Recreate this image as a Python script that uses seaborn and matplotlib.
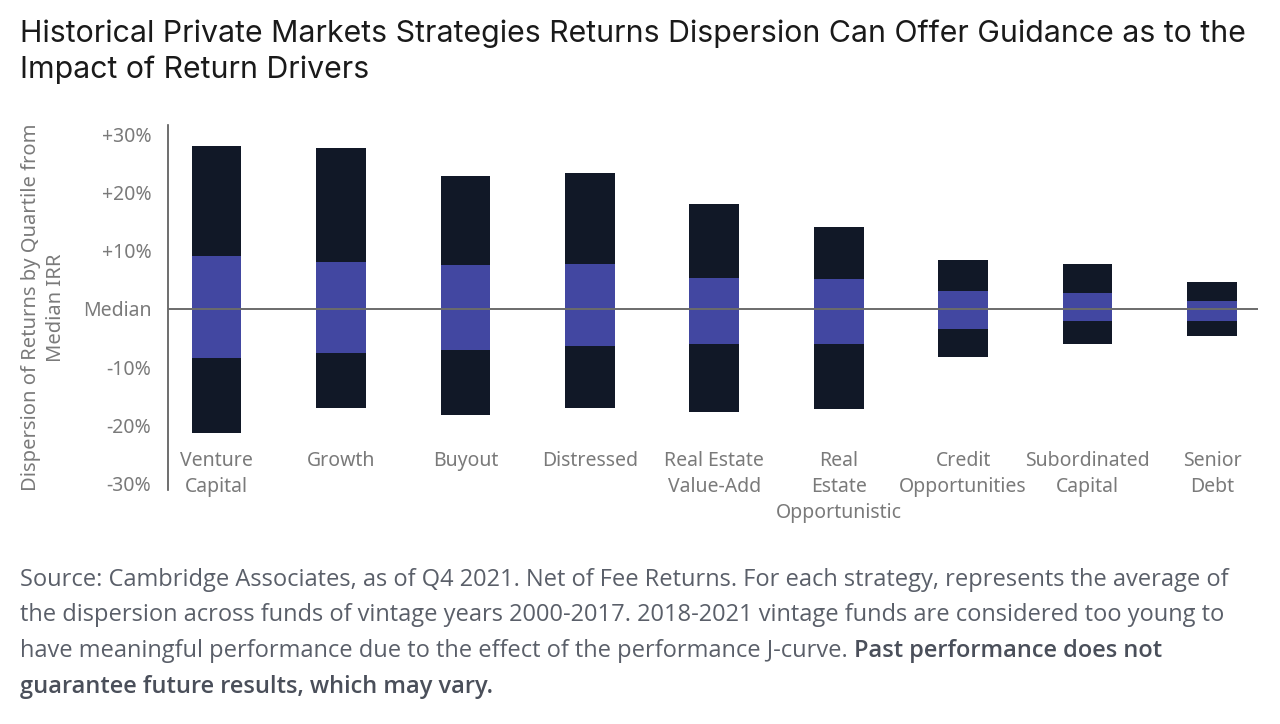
import matplotlib
matplotlib.use("Agg")
import matplotlib.pyplot as plt
import seaborn as sns
import pandas as pd

# values (% dispersion from median IRR)
strategies = ["Venture\nCapital", "Growth", "Buyout", "Distressed",
              "Real Estate\nValue-Add", "Real\nEstate\nOpportunistic",
              "Credit\nOpportunities", "Subordinated\nCapital", "Senior\nDebt"]
top = [28.0, 27.6, 22.9, 23.3, 18.1, 14.1, 8.4, 7.7, 4.7]
upper_q = [9.1, 8.1, 7.5, 7.8, 5.4, 5.1, 3.1, 2.8, 1.4]
lower_q = [-8.4, -7.5, -7.0, -6.3, -6.1, -6.1, -3.5, -2.0, -2.0]
bottom = [-21.3, -17.0, -18.3, -17.0, -17.7, -17.1, -8.3, -6.1, -4.6]

ytick_vals = [30, 20, 10, 0, -10, -20, -30]
ytick_labels = ["+30%", "+20%", "+10%", "Median", "-10%", "-20%", "-30%"]

df = pd.DataFrame({"strategy": strategies, "top": top, "upper_q": upper_q,
                   "lower_q": lower_q, "bottom": bottom})

sns.set_style("white")
plt.rcParams["font.family"] = ["Noto Sans", "DejaVu Sans"]

dark = "#111827"
blue = "#4247a1"
grey = "#7a7a7a"

fig = plt.figure(figsize=(12.8, 7.24), dpi=100)
ax = fig.add_axes([168 / 1280, 1 - 490 / 724, (1258 - 168) / 1280, (490 - 125) / 724])

# overlapping bars from zero: outer range dark, interquartile blue on top
for col, c in [("top", dark), ("bottom", dark), ("upper_q", blue), ("lower_q", blue)]:
    sns.barplot(data=df, x="strategy", y=col, color=c, width=0.4,
                saturation=1, linewidth=0, ax=ax)

ax.axhline(0, color="#6b6b6b", lw=1.4, zorder=5)
ax.set_xlim(-0.39, 8.37)
ax.set_ylim(-31.1, 31.6)

ax.set_yticks(ytick_vals)
ax.set_yticklabels(ytick_labels)
ax.tick_params(axis="y", length=0, pad=12, labelsize=14, labelcolor=grey)
ax.tick_params(axis="x", length=0, pad=-28, labelsize=14, labelcolor=grey)
for lbl in ax.get_xticklabels():
    lbl.set_linespacing(1.4)

ax.set_xlabel("")
ax.set_ylabel("Dispersion of Returns by Quartile from\nMedian IRR",
              fontsize=14.5, color=grey, linespacing=1.35, labelpad=12)

for s in ["top", "right", "bottom"]:
    ax.spines[s].set_visible(False)
ax.spines["left"].set_color("#555555")
ax.spines["left"].set_linewidth(1.2)

title_font = ["Inter", "DejaVu Sans"]
fig.text(20 / 1280, 1 - 34 / 724,
         "Historical Private Markets Strategies Returns Dispersion Can Offer Guidance as to the",
         fontsize=21.8, color="#1a1a1a", va="center", family=title_font)
fig.text(20 / 1280, 1 - 70 / 724, "Impact of Return Drivers",
         fontsize=21.8, color="#1a1a1a", va="center", family=title_font)

foot_color = "#5a5f69"
foot_bold = "#4a4f5a"
foot_fs = 17.0
foot_font = ["Open Sans", "DejaVu Sans"]
lines = [
    ("Source: Cambridge Associates, as of Q4 2021. Net of Fee Returns. For each strategy, represents the average of", ""),
    ("the dispersion across funds of vintage years 2000-2017. 2018-2021 vintage funds are considered too young to", ""),
    ("have meaningful performance due to the effect of the performance J-curve. ", "Past performance does not"),
    ("", "guarantee future results, which may vary."),
]
ys = [580, 615, 651, 687]
fig.canvas.draw()
renderer = fig.canvas.get_renderer()
for (reg, bold), y in zip(lines, ys):
    x0 = 20 / 1280
    if reg:
        t = fig.text(x0, 1 - y / 724, reg, fontsize=foot_fs, color=foot_color,
                     va="center", family=foot_font)
        bb = t.get_window_extent(renderer)
        x0 = bb.x1 / fig.bbox.width
    if bold:
        fig.text(x0, 1 - y / 724, bold, fontsize=foot_fs, color=foot_bold,
                 va="center", fontweight="semibold", family=foot_font)

fig.savefig("out.png", dpi=100)
